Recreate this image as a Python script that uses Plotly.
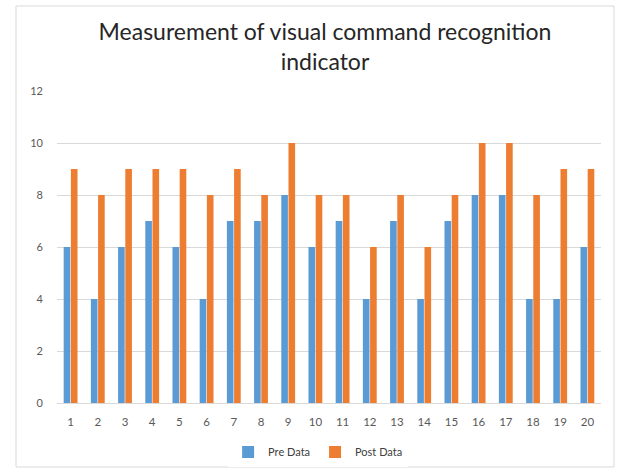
import plotly.graph_objects as go

categories = [str(i) for i in range(1, 21)]
pre_data = [6, 4, 6, 7, 6, 4, 7, 7, 8, 6, 7, 4, 7, 4, 7, 8, 8, 4, 4, 6]
post_data = [9, 8, 9, 9, 9, 8, 9, 8, 10, 8, 8, 6, 8, 6, 8, 10, 10, 8, 9, 9]
y_ticks = [0, 2, 4, 6, 8, 10, 12]

fig = go.Figure()
fig.add_trace(go.Bar(x=categories, y=pre_data, name="Pre Data",
                     marker=dict(color="#5B9BD5", line=dict(width=0))))
fig.add_trace(go.Bar(x=categories, y=post_data, name="Post Data",
                     marker=dict(color="#ED7D31", line=dict(width=0))))

W, H = 619, 472
ml, mr, mt, mb = 57, 18, 91, 69
pw, ph = W - ml - mr, H - mt - mb

def px_x(p):
    return (p - ml) / pw

def px_y(p):
    return (H - mb - p) / ph

fig.update_layout(
    width=W, height=H,
    margin=dict(l=ml, r=mr, t=mt, b=mb, autoexpand=False),
    paper_bgcolor="white", plot_bgcolor="white",
    font=dict(family="Lato, Open Sans, sans-serif", color="#595959"),
    title=dict(text="Measurement of visual command recognition<br>indicator",
               x=0.525, xanchor="center", y=1 - 40 / H, yanchor="middle",
               font=dict(size=23, color="#262626")),
    barmode="group", bargap=0.47, bargroupgap=0.08,
    showlegend=True,
    legend=dict(orientation="h", x=0.48, xanchor="center", y=px_y(452), yanchor="middle",
                font=dict(size=11, color="#404040"), itemwidth=30,
                traceorder="normal"),
    xaxis=dict(type="category", showgrid=False, showline=True, linecolor="#d9d9d9",
               linewidth=1, ticks="", tickfont=dict(size=11.5, color="#595959"),
               ticklabelstandoff=8),
    yaxis=dict(range=[0, 12], tickvals=y_ticks, showgrid=True, gridcolor="#d9d9d9",
               gridwidth=1, zeroline=False, showline=False, ticks="",
               tickfont=dict(size=11, color="#595959"), ticklabelstandoff=13),
    shapes=[dict(type="rect", xref="paper", yref="paper",
                 x0=px_x(16), x1=px_x(614), y0=px_y(467), y1=px_y(6),
                 line=dict(color="#d9d9d9", width=1), layer="below")],
)

fig.write_html("out.html", config={"displayModeBar": False},
               post_script="document.body.style.margin='0';document.body.style.padding='0';")
